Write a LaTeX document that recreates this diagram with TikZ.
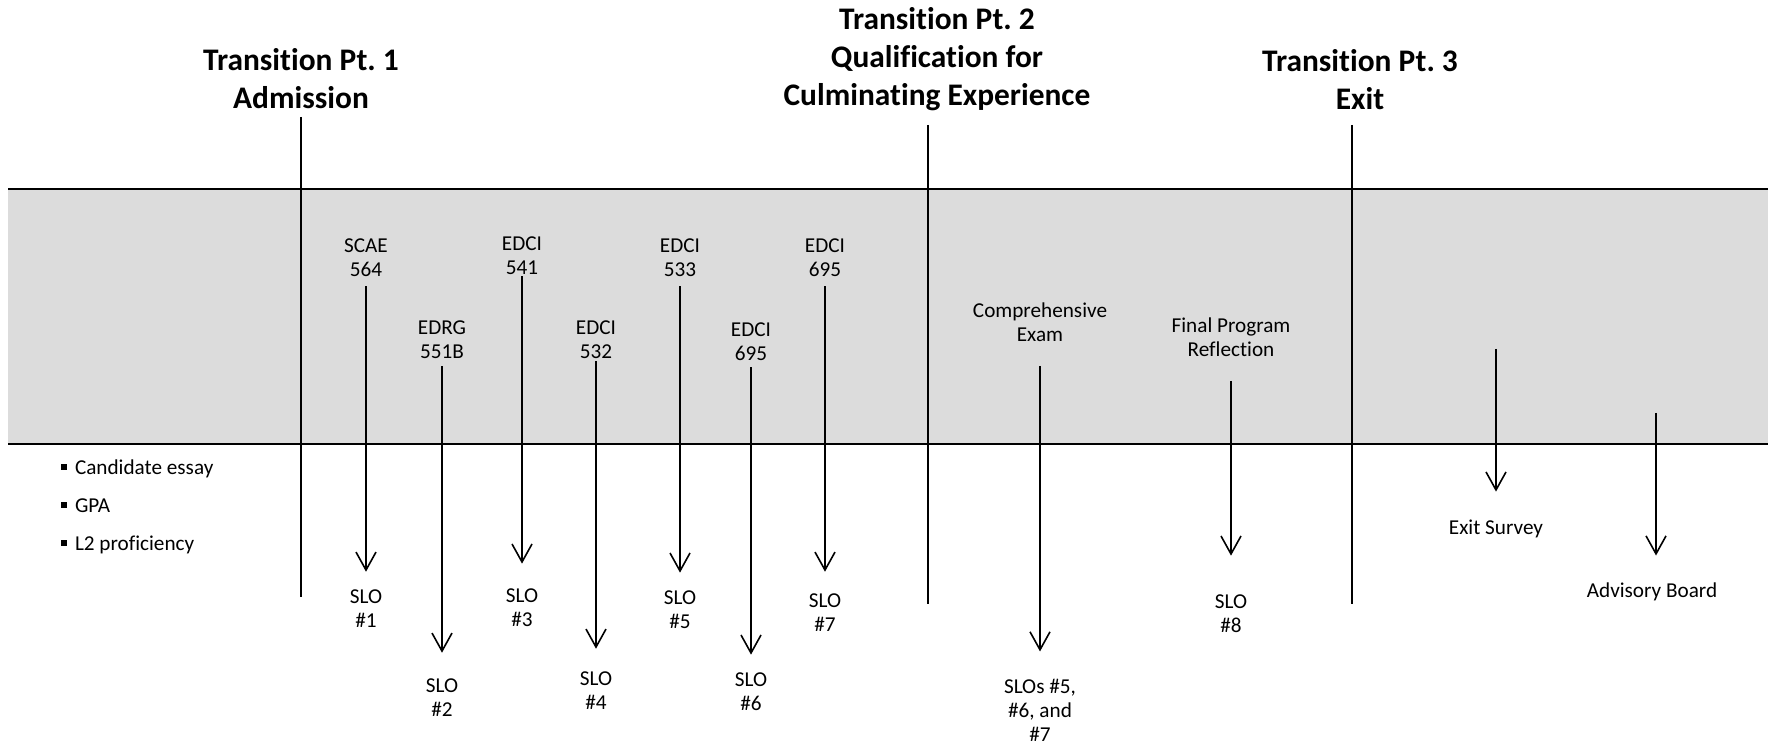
\documentclass[tikz,border=0pt]{standalone}
\usepackage{fontspec}
\setmainfont{Carlito}[Ligatures=NoCommon]
\usetikzlibrary{arrows.meta}
\definecolor{bandgray}{RGB}{220,220,220}
\newcommand{\sqbullet}{\rule[2.5pt]{2.8pt}{3.2pt}\hspace{4pt}}
\frenchspacing

\begin{document}
\begin{tikzpicture}[x=0.5pt,y=-0.5pt,
        title/.style={font=\fontsize{15.7}{19}\selectfont\bfseries,align=center,inner sep=0pt},
        lbl/.style={font=\fontsize{10.6}{12}\selectfont,align=center,inner sep=0pt},
        slo/.style={-{Straight Barb[length=9pt,width=10pt]},line width=0.8pt},
        phase/.style={line width=1pt}]
\useasboundingbox (0,0) rectangle (1768,747);

% grey band of the program
\fill[bandgray] (8,189) rectangle (1768,444);
\draw[line width=1.2pt] (8,189) -- (1768,189);
\draw[line width=1.2pt] (8,444) -- (1768,444);

% transition points
\node[title] (tp1) at (301,79) {Transition Pt. 1\\Admission};
\node[title] (tp2) at (937,59) {Transition Pt. 2\\Qualification for\\Culminating Experience};
\node[title] (tp3) at (1360,80) {Transition Pt. 3\\Exit};

\coordinate (tp1a) at (301,117);  \coordinate (tp1b) at (301,597);
\coordinate (tp2a) at (928,125);  \coordinate (tp2b) at (928,604);
\coordinate (tp3a) at (1352,125); \coordinate (tp3b) at (1352,604);
\draw[phase] (tp1a) -- (tp1b);
\draw[phase] (tp2a) -- (tp2b);
\draw[phase] (tp3a) -- (tp3b);

% admission criteria
\node[lbl,anchor=base west] (adm1) at (61,475) {\sqbullet Candidate essay};
\node[lbl,anchor=base west] (adm2) at (61,513) {\sqbullet GPA};
\node[lbl,anchor=base west] (adm3) at (61,551) {\sqbullet L2 proficiency};

% courses
\node[lbl] (c1) at (366,258) {SCAE\\564};
\node[lbl] (c2) at (442,340) {EDRG\\551B};
\node[lbl] (c3) at (522,256) {EDCI\\541};
\node[lbl] (c4) at (596,340) {EDCI\\532};
\node[lbl] (c5) at (680,258) {EDCI\\533};
\node[lbl] (c6) at (751,342) {EDCI\\695};
\node[lbl] (c7) at (825,258) {EDCI\\695};

\node[lbl] (s1) at (366,609) {SLO\\\#1};
\node[lbl] (s2) at (442,698) {SLO\\\#2};
\node[lbl] (s3) at (522,608) {SLO\\\#3};
\node[lbl] (s4) at (596,691) {SLO\\\#4};
\node[lbl] (s5) at (680,610) {SLO\\\#5};
\node[lbl] (s6) at (751,692) {SLO\\\#6};
\node[lbl] (s7) at (825,613) {SLO\\\#7};

\draw[slo,shorten <=4.5pt,shorten >=9pt] (c1) -- (s1);
\draw[slo,shorten <=3.5pt,shorten >=13pt] (c2) -- (s2);
\draw[slo,shorten <=0.5pt,shorten >=12.5pt] (c3) -- (s3);
\draw[slo,shorten <=1pt,shorten >=11.5pt] (c4) -- (s4);
\draw[slo,shorten <=4.5pt,shorten >=9pt] (c5) -- (s5);
\draw[slo,shorten <=3pt,shorten >=9pt] (c6) -- (s6);
\draw[slo,shorten <=4.5pt,shorten >=11pt] (c7) -- (s7);

% culminating experience
\node[lbl] (exam) at (1040,322) {Comprehensive\\Exam};
\node[lbl] (refl) at (1231,337) {Final Program\\Reflection};
\node[lbl] (s567) at (1040,710) {SLOs \#5,\\\#6, and\\\#7};
\node[lbl] (s8) at (1231,614) {SLO\\\#8};

\draw[slo,shorten <=12pt,shorten >=13.5pt] (exam) -- (s567);
\draw[slo,shorten <=12pt,shorten >=19.5pt] (refl) -- (s8);

% exit
\node[lbl] (exit) at (1496,529) {Exit Survey};
\node[lbl] (board) at (1652,592) {Advisory Board};
\coordinate (exit0) at (1496,349);
\coordinate (board0) at (1656,413);

\draw[slo,shorten >=14pt] (exit0) -- (exit);
\draw[slo,shorten >=13.5pt] (board0) -- (board0 |- board.north);

\end{tikzpicture}
\end{document}
